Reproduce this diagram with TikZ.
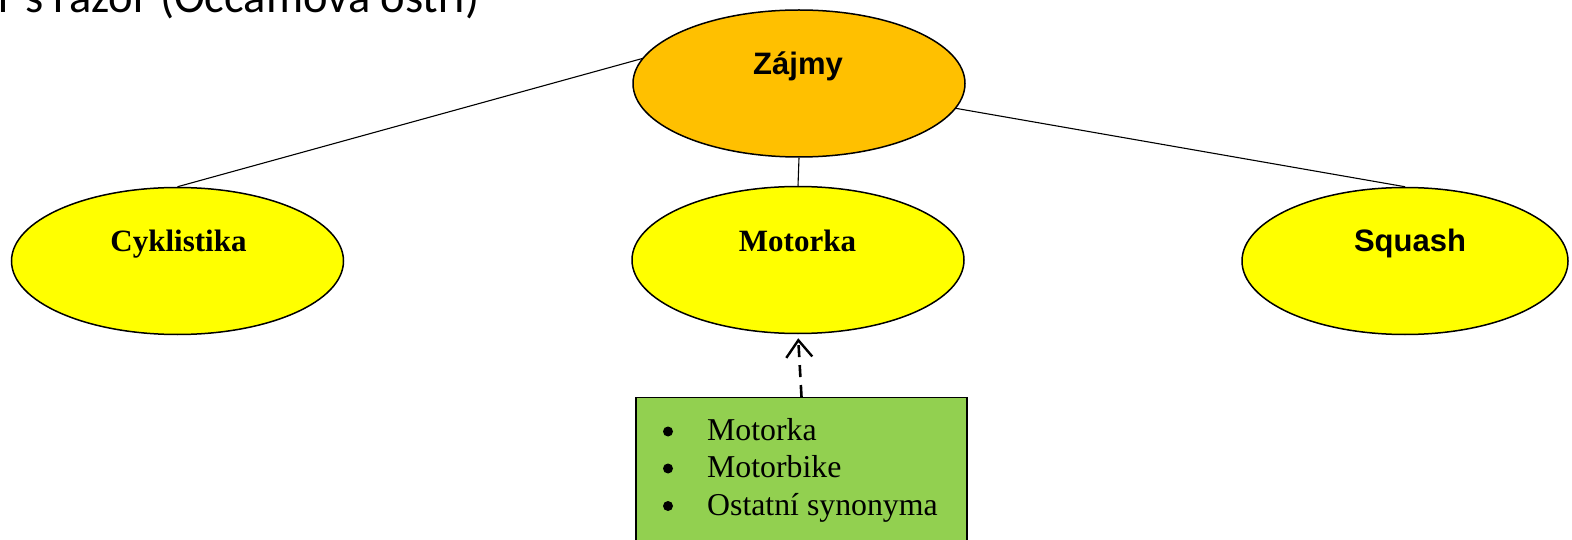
\documentclass[tikz,border=0pt]{standalone}
\usepackage{fontspec}
\setmainfont{Liberation Serif}
\setsansfont{Liberation Sans}
\newfontfamily\calibfont{Carlito}
\usetikzlibrary{shapes.geometric,arrows.meta}
\definecolor{zorange}{RGB}{255,192,0}
\definecolor{zyellow}{RGB}{255,255,0}
\definecolor{zgreen}{RGB}{146,208,80}
\begin{document}
\begin{tikzpicture}[x=1pt,y=-1pt,
  oval/.style={ellipse, draw=black, line width=1.5pt, inner sep=0pt, minimum width=332pt, minimum height=147pt},
  link/.style={draw=black, line width=1.1pt},
  sanslbl/.style={font=\sffamily\bfseries\fontsize{31}{37}\selectfont, anchor=base, inner sep=0pt},
  seriflbl/.style={font=\rmfamily\bfseries\fontsize{31}{37}\selectfont, anchor=base, inner sep=0pt},
  item/.style={font=\rmfamily\fontsize{31.8}{38}\selectfont, anchor=base west, inner sep=0pt},
  bul/.style={circle, fill=black, inner sep=0pt, minimum size=10pt},
  synarrow/.style={line width=2.6pt, dash pattern=on 12pt off 8pt, -{Straight Barb[length=17pt,width=26pt,line width=2.4pt]}, shorten >=4pt}]
\useasboundingbox (0,0) rectangle (1572,540);
\clip (0,0) rectangle (1572,540);
% title (cut off at top)
\node[font=\calibfont\fontsize{46.5}{56}\selectfont, anchor=base west, inner sep=0pt] (title) at (-2,13) {r’s razor (Occamova ostří)};
% ellipses
\node[oval, fill=zorange] (zajmy) at (799,83.5) {};
\node[oval, fill=zyellow] (cykl) at (177.5,261) {};
\node[oval, fill=zyellow] (moto) at (798,260) {};
\node[oval, fill=zyellow, minimum width=326pt] (squash) at (1405,261) {};
% labels
\node[sanslbl] (zajmyt) at (798,75) {Zájmy};
\node[seriflbl] (cyklt) at (178.5,252) {Cyklistika};
\node[seriflbl] (motot) at (797.5,252) {Motorka};
\node[sanslbl] (squasht) at (1410,252) {Squash};
% connectors
\draw[link] (zajmy.171) -- (cykl.north);
\draw[link] (zajmy.-9) -- (squash.north);
\draw[link] (zajmy.south) -- (moto.north);
% synonym box
\node[draw=black, fill=zgreen, line width=1.1pt, minimum width=331pt, minimum height=200pt, anchor=north, inner sep=0pt] (syn) at (801.5,397) {};
\node[bul] (b1) at (668,431.5) {};
\node[bul] (b2) at (668,468.5) {};
\node[bul] (b3) at (668,506) {};
\node[item] (i1) at (707,440) {Motorka};
\node[item] (i2) at (707,477) {Motorbike};
\node[item] (i3) at (707,515) {Ostatní synonyma};
\draw[synarrow] (syn.north) -- (moto.south);
\end{tikzpicture}
\end{document}
